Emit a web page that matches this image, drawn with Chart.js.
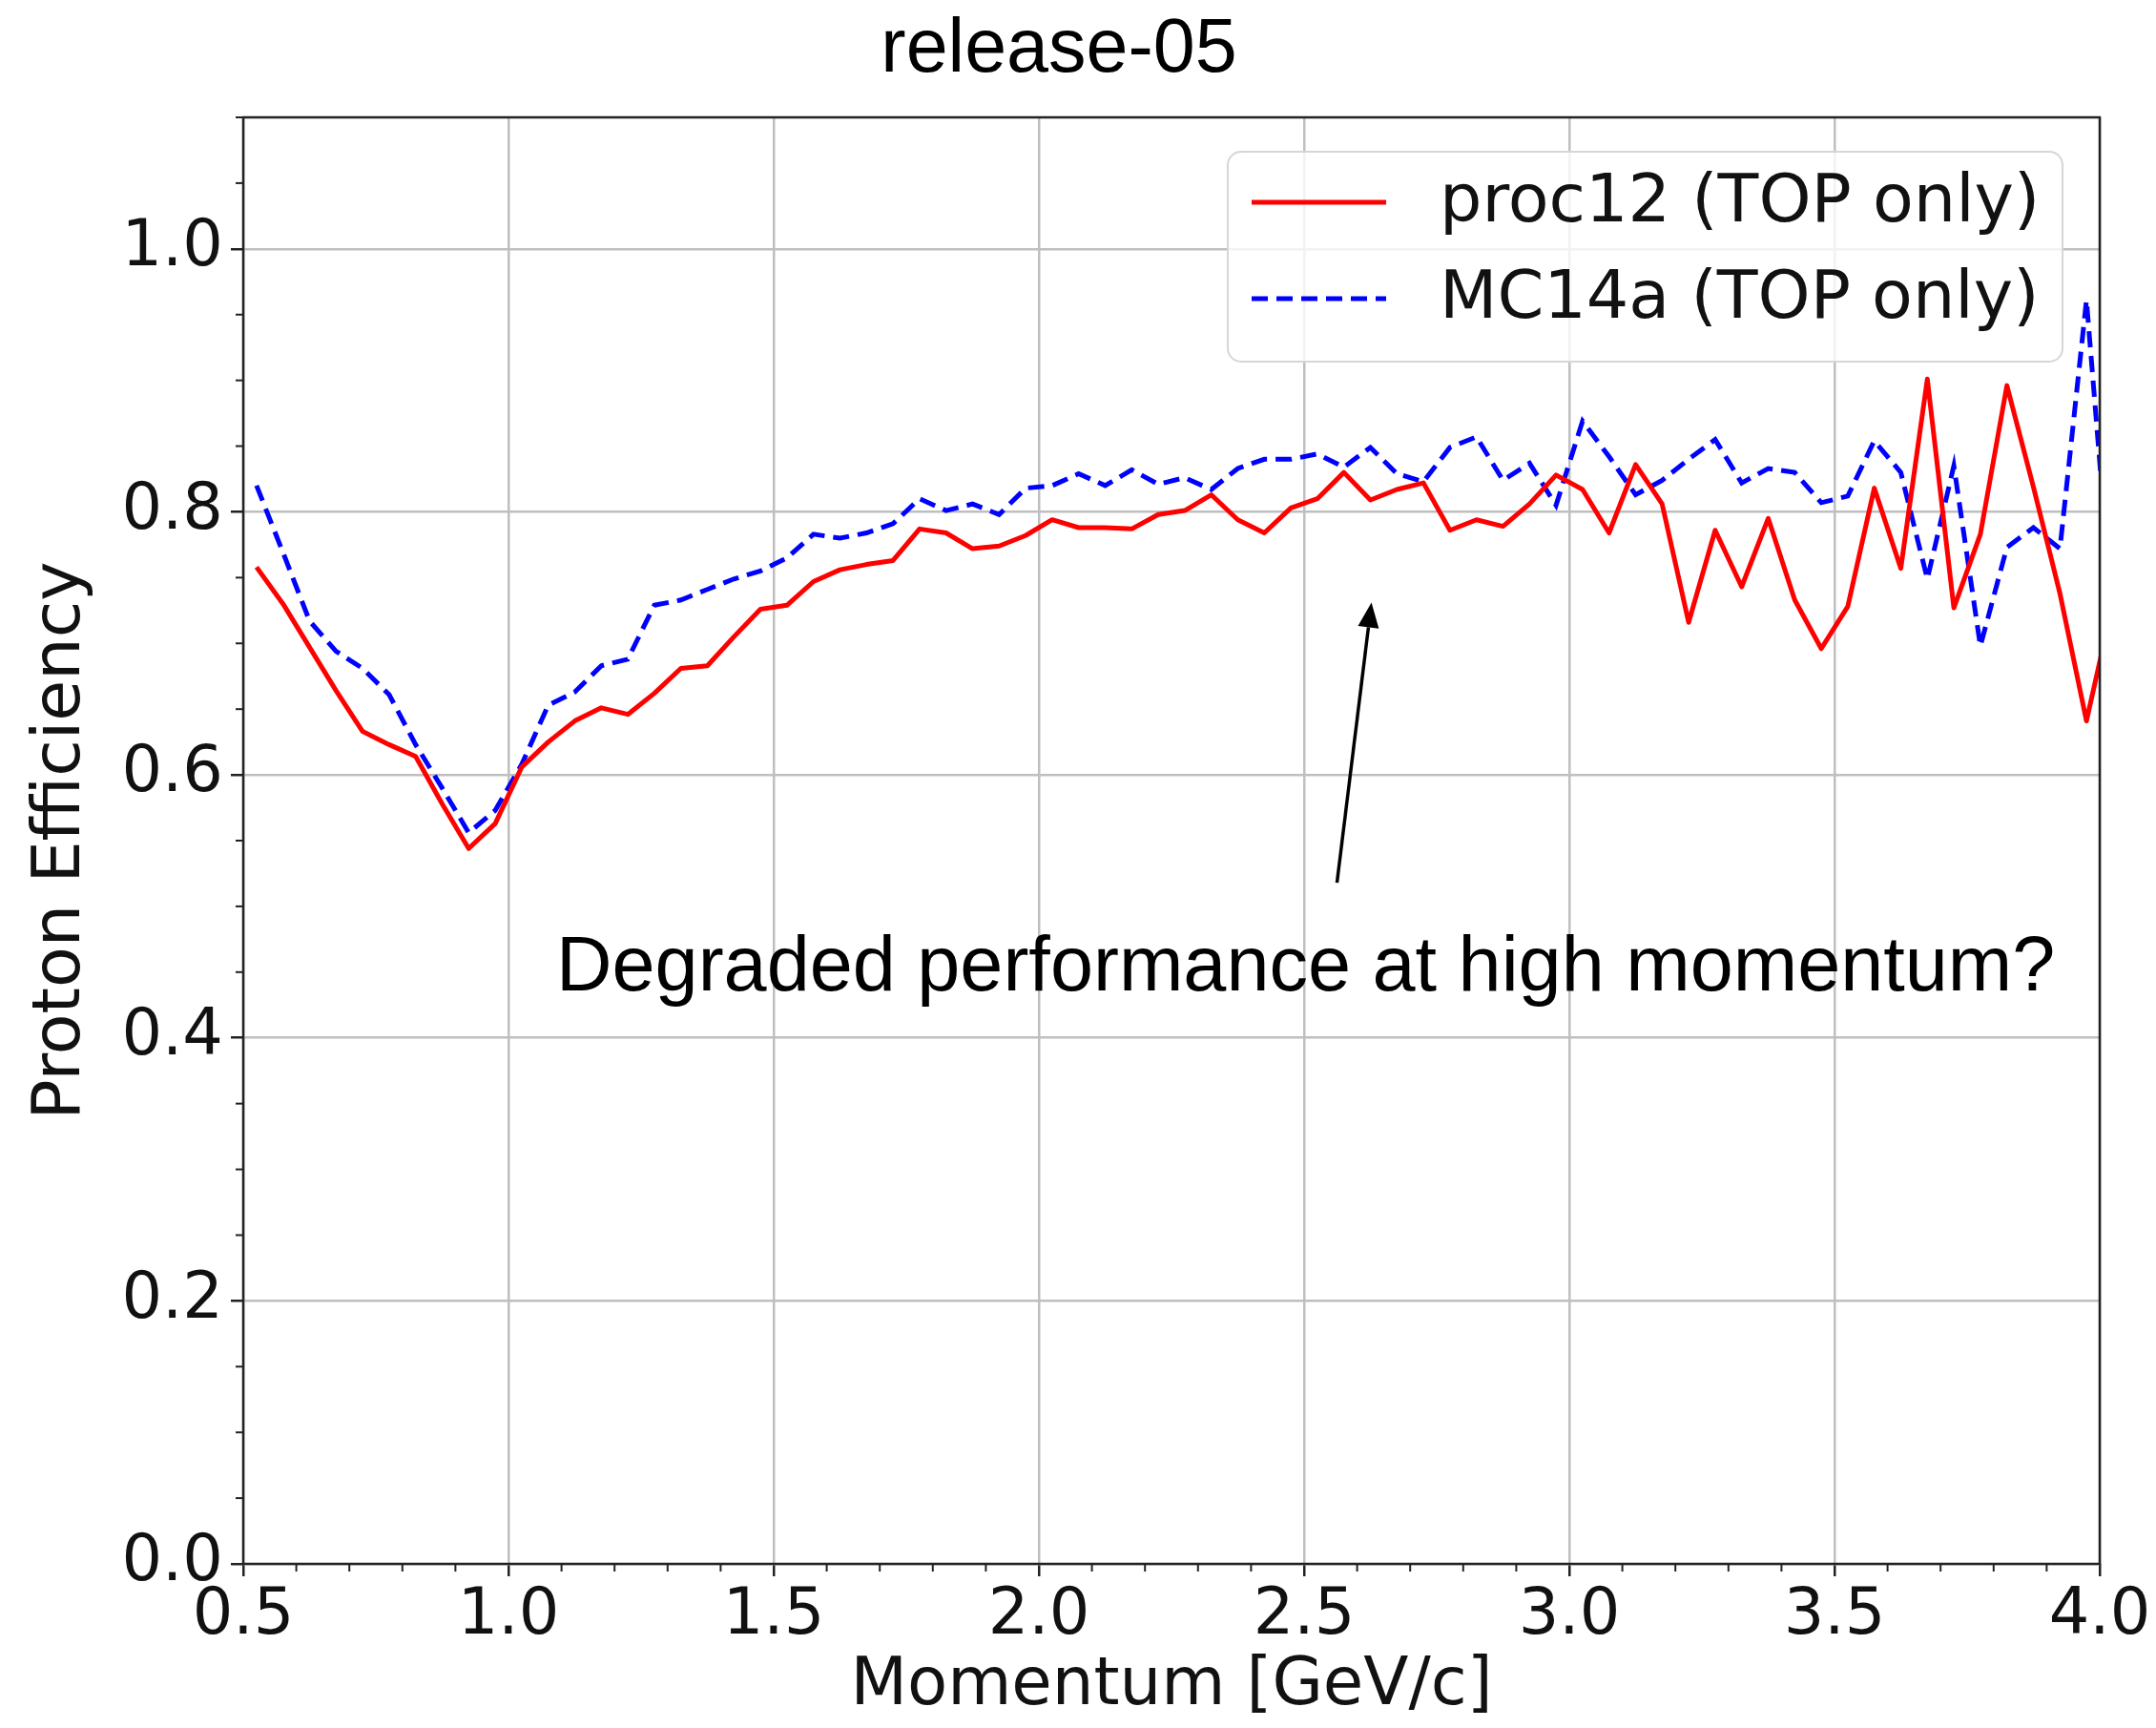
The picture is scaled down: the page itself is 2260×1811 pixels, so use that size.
<!DOCTYPE html>
<html>
<head>
<meta charset="utf-8">
<script src="https://cdn.jsdelivr.net/npm/chart.js@4.4.1/dist/chart.umd.min.js"></script>
<style>
  body { margin: 0; background: #fff; }
  #wrap { width: 2260px; height: 1811px; }
</style>
</head>
<body>
<div id="wrap"><canvas id="effChart" width="2260" height="1811"></canvas></div>
<script>
// bin centres (GeV/c) - last point sits past the axis end and gets clipped
const momentum = [
    0.525, 0.575, 0.625, 0.675, 0.725, 0.775, 0.825, 0.875, 0.925, 0.975,
    1.025, 1.075, 1.125, 1.175, 1.225, 1.275, 1.325, 1.375, 1.425, 1.475,
    1.525, 1.575, 1.625, 1.675, 1.725, 1.775, 1.825, 1.875, 1.925, 1.975,
    2.025, 2.075, 2.125, 2.175, 2.225, 2.275, 2.325, 2.375, 2.425, 2.475,
    2.525, 2.575, 2.625, 2.675, 2.725, 2.775, 2.825, 2.875, 2.925, 2.975,
    3.025, 3.075, 3.125, 3.175, 3.225, 3.275, 3.325, 3.375, 3.425, 3.475,
    3.525, 3.575, 3.625, 3.675, 3.725, 3.775, 3.825, 3.875, 3.925, 3.975,
    4.025
];

const proc12Eff = [
    0.758, 0.730, 0.697, 0.664, 0.633, 0.623, 0.614, 0.578, 0.544, 0.563,
    0.606, 0.625, 0.641, 0.651, 0.646, 0.662, 0.681, 0.683, 0.705, 0.726,
    0.729, 0.747, 0.756, 0.760, 0.763, 0.787, 0.784, 0.772, 0.774, 0.782,
    0.794, 0.788, 0.788, 0.787, 0.798, 0.801, 0.813, 0.794, 0.784, 0.803,
    0.810, 0.830, 0.809, 0.817, 0.822, 0.786, 0.794, 0.789, 0.806, 0.828,
    0.817, 0.784, 0.836, 0.806, 0.716, 0.786, 0.743, 0.795, 0.733, 0.696,
    0.728, 0.818, 0.757, 0.901, 0.727, 0.783, 0.896, 0.819, 0.738, 0.641,
    0.731
];

const mc14aEff = [
    0.820, 0.769, 0.717, 0.694, 0.681, 0.661, 0.623, 0.590, 0.556, 0.573,
    0.608, 0.653, 0.663, 0.683, 0.688, 0.729, 0.733, 0.741, 0.749, 0.755,
    0.765, 0.783, 0.780, 0.784, 0.791, 0.810, 0.801, 0.806, 0.798, 0.818,
    0.820, 0.829, 0.820, 0.832, 0.821, 0.826, 0.817, 0.833, 0.840, 0.840,
    0.844, 0.834, 0.849, 0.829, 0.823, 0.849, 0.857, 0.824, 0.837, 0.805,
    0.869, 0.842, 0.813, 0.824, 0.840, 0.855, 0.822, 0.833, 0.830, 0.807,
    0.812, 0.854, 0.830, 0.749, 0.835, 0.698, 0.773, 0.788, 0.772, 0.961,
    0.715
];

const seriesNames = ['proc12 (TOP only)', 'MC14a (TOP only)'];
const chartTitle = 'release-05';
const noteText = 'Degraded performance at high momentum?';
// annotation in data units: text anchor, arrow tail, arrow head
const notePos = { x: 1.09, y: 0.436 };
const arrowFrom = { x: 2.562, y: 0.518 };
const arrowTo = { x: 2.627, y: 0.731 };

const xRange = { min: 0.5, max: 4.0, major: 0.5, minor: 0.1 };
const yRange = { min: 0.0, max: 1.1, major: 0.2, minor: 0.05 };

Chart.defaults.font.family = 'DejaVu Sans';
Chart.defaults.color = '#111';

const AXIS_COLOR = '#222';
const GRID_COLOR = '#bfbfbf';

// matplotlib style frame, minor ticks, legend box and the note
const extrasPlugin = {
    id: 'extras',
    afterDatasetsDraw(chart) {
        const { ctx, chartArea: a, scales } = chart;
        const xs = scales.x, ys = scales.y;
        ctx.save();

        // minor ticks
        ctx.strokeStyle = AXIS_COLOR;
        ctx.lineWidth = 2;
        for (let i = 0; ; i++) {
            const v = yRange.min + i * yRange.minor;
            if (v > yRange.max + 1e-9) break;
            if (Math.abs(v / yRange.major - Math.round(v / yRange.major)) < 1e-6) continue;
            const py = ys.getPixelForValue(v);
            ctx.beginPath(); ctx.moveTo(a.left - 8, py); ctx.lineTo(a.left, py); ctx.stroke();
        }
        for (let i = 0; ; i++) {
            const v = xRange.min + i * xRange.minor;
            if (v > xRange.max + 1e-9) break;
            if (Math.abs(v / xRange.major - Math.round(v / xRange.major)) < 1e-6) continue;
            const px = xs.getPixelForValue(v);
            ctx.beginPath(); ctx.moveTo(px, a.bottom); ctx.lineTo(px, a.bottom + 8); ctx.stroke();
        }

        // frame
        ctx.lineWidth = 2.5;
        ctx.strokeRect(a.left, a.top, a.right - a.left, a.bottom - a.top);

        // legend
        const boxW = 875, boxH = 220;
        const bx = a.right - 39 - boxW, by = a.top + 36;
        ctx.beginPath();
        ctx.roundRect(bx, by, boxW, boxH, 14);
        ctx.fillStyle = 'rgba(255,255,255,0.8)';
        ctx.fill();
        ctx.strokeStyle = '#d6d6d6';
        ctx.lineWidth = 2;
        ctx.stroke();
        ctx.font = '70px "DejaVu Sans"';
        ctx.textBaseline = 'middle';
        ctx.textAlign = 'left';
        chart.data.datasets.forEach((ds, i) => {
            const ry = by + 53 + i * 101;
            ctx.strokeStyle = ds.borderColor;
            ctx.lineWidth = ds.borderWidth;
            ctx.setLineDash(ds.borderDash || []);
            ctx.beginPath(); ctx.moveTo(bx + 25, ry); ctx.lineTo(bx + 166, ry); ctx.stroke();
            ctx.setLineDash([]);
            ctx.fillStyle = '#111';
            ctx.fillText(ds.label, bx + 222, ry + 2);
        });

        // note + arrow
        ctx.fillStyle = '#000';
        ctx.font = '81px "Liberation Sans"';
        ctx.textBaseline = 'alphabetic';
        ctx.fillText(noteText, xs.getPixelForValue(notePos.x), ys.getPixelForValue(notePos.y));

        const x0 = xs.getPixelForValue(arrowFrom.x), y0 = ys.getPixelForValue(arrowFrom.y);
        const x1 = xs.getPixelForValue(arrowTo.x), y1 = ys.getPixelForValue(arrowTo.y);
        const ang = Math.atan2(y1 - y0, x1 - x0);
        const headLen = 26, headW = 11;
        const bxh = x1 - headLen * Math.cos(ang), byh = y1 - headLen * Math.sin(ang);
        ctx.strokeStyle = '#000';
        ctx.lineWidth = 3.5;
        ctx.beginPath(); ctx.moveTo(x0, y0); ctx.lineTo(bxh, byh); ctx.stroke();
        ctx.beginPath();
        ctx.moveTo(x1, y1);
        ctx.lineTo(bxh + headW * Math.sin(ang), byh - headW * Math.cos(ang));
        ctx.lineTo(bxh - headW * Math.sin(ang), byh + headW * Math.cos(ang));
        ctx.closePath();
        ctx.fill();

        // title
        ctx.font = '79px "Liberation Sans"';
        ctx.textAlign = 'center';
        ctx.fillText(chartTitle, 1110, 75);

        ctx.restore();
    }
};

const ctx = document.getElementById('effChart').getContext('2d');
const effChart = new Chart(ctx, {
    type: 'line',
    data: {
        datasets: [
            {
                label: seriesNames[0],
                data: momentum.map((m, i) => ({ x: m, y: proc12Eff[i] })),
                borderColor: '#ff0000',
                borderWidth: 5,
                borderJoinStyle: 'round',
                pointRadius: 0,
                tension: 0,
                clip: 0
            },
            {
                label: seriesNames[1],
                data: momentum.map((m, i) => ({ x: m, y: mc14aEff[i] })),
                borderColor: '#0000ff',
                borderWidth: 5,
                borderDash: [17, 9],
                pointRadius: 0,
                tension: 0,
                clip: 0
            }
        ]
    },
    options: {
        responsive: false,
        animation: false,
        layout: { padding: { top: 123, right: 59, left: 0, bottom: 0 } },
        plugins: {
            legend: { display: false },
            title: { display: false },
            tooltip: { enabled: false }
        },
        scales: {
            x: {
                type: 'linear',
                min: xRange.min,
                max: xRange.max,
                afterFit: (s) => { s.height = 172; },
                border: { display: false },
                grid: { color: GRID_COLOR, lineWidth: 2.5, tickColor: AXIS_COLOR, tickLength: 13, tickWidth: 2.5 },
                ticks: {
                    stepSize: xRange.major,
                    includeBounds: false,
                    maxRotation: 0,
                    autoSkip: false,
                    padding: 2,
                    color: '#111',
                    font: { size: 67 },
                    callback: (v) => Number(v).toFixed(1)
                },
                title: {
                    display: true,
                    text: 'Momentum [GeV/c]',
                    color: '#111',
                    font: { size: 69 },
                    padding: { top: 0, bottom: 2 }
                }
            },
            y: {
                min: yRange.min,
                max: yRange.max,
                afterFit: (s) => { s.width = 255; },
                border: { display: false },
                grid: { color: GRID_COLOR, lineWidth: 2.5, tickColor: AXIS_COLOR, tickLength: 13, tickWidth: 2.5 },
                ticks: {
                    stepSize: yRange.major,
                    includeBounds: false,
                    padding: 8,
                    color: '#111',
                    font: { size: 67 },
                    callback: (v) => Number(v).toFixed(1)
                },
                title: {
                    display: true,
                    text: 'Proton Efficiency',
                    color: '#111',
                    font: { size: 70 },
                    padding: { top: 23, bottom: 0 }
                }
            }
        }
    },
    plugins: [extrasPlugin]
});
</script>
</body>
</html>
